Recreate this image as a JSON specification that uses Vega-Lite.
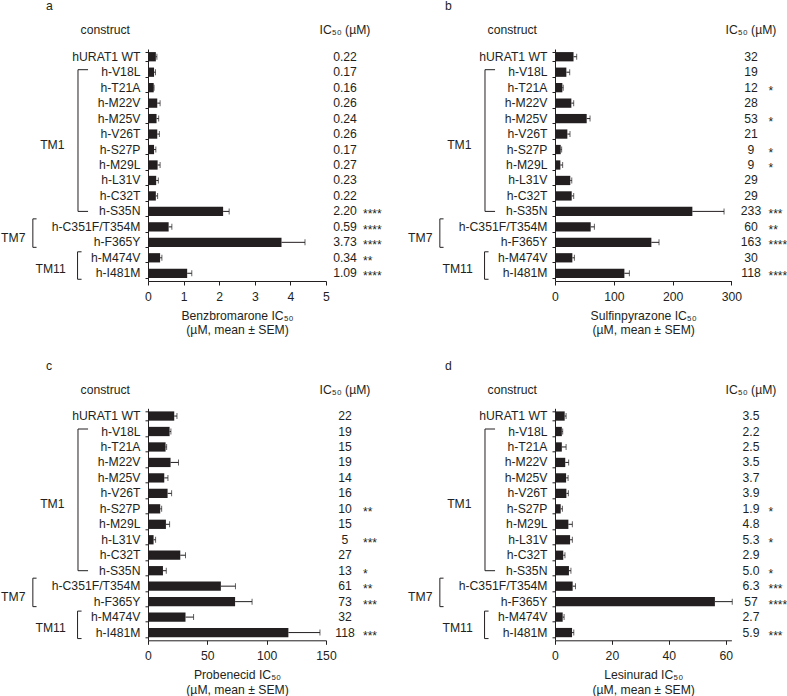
{
"$schema": "https://vega.github.io/schema/vega-lite/v6.json",
"padding": 0,
"autosize": {"type": "pad"},
"config": {
 "font": "Liberation Sans",
 "view": {"stroke": null},
 "text": {"color": "#231f20", "fontSize": 12.2, "font": "Liberation Sans"},
 "title": {"color": "#231f20", "fontSize": 12.2, "fontWeight": "normal", "frame": "group", "baseline": "middle", "font": "Liberation Sans"},
 "axis": {"domainColor": "#231f20", "tickColor": "#231f20", "labelColor": "#231f20", "titleColor": "#231f20", "labelFontSize": 12.2, "titleFontSize": 12.2, "titleFontWeight": "normal", "grid": false, "domainWidth": 1, "tickWidth": 1, "labelFont": "Liberation Sans", "titleFont": "Liberation Sans", "labelFlush": false}
},
"datasets": {
 "groups": [
  {"group": "TM1", "start": "h-V18L", "end": "h-S35N", "mid": "h-S27P"},
  {"group": "TM7", "start": "h-C351F/T354M", "end": "h-F365Y", "mid": "h-F365Y"},
  {"group": "TM11", "start": "h-M474V", "end": "h-I481M", "mid": "h-I481M"}
 ],
 "a": [
  {"construct": "hURAT1 WT", "mean": 0.22, "upper": 0.25, "label": "0.22", "sig": ""},
  {"construct": "h-V18L", "mean": 0.17, "upper": 0.21, "label": "0.17", "sig": ""},
  {"construct": "h-T21A", "mean": 0.16, "upper": 0.17, "label": "0.16", "sig": ""},
  {"construct": "h-M22V", "mean": 0.26, "upper": 0.34, "label": "0.26", "sig": ""},
  {"construct": "h-M25V", "mean": 0.24, "upper": 0.30, "label": "0.24", "sig": ""},
  {"construct": "h-V26T", "mean": 0.26, "upper": 0.32, "label": "0.26", "sig": ""},
  {"construct": "h-S27P", "mean": 0.17, "upper": 0.22, "label": "0.17", "sig": ""},
  {"construct": "h-M29L", "mean": 0.27, "upper": 0.34, "label": "0.27", "sig": ""},
  {"construct": "h-L31V", "mean": 0.23, "upper": 0.29, "label": "0.23", "sig": ""},
  {"construct": "h-C32T", "mean": 0.22, "upper": 0.27, "label": "0.22", "sig": ""},
  {"construct": "h-S35N", "mean": 2.11, "upper": 2.28, "label": "2.20", "sig": "****"},
  {"construct": "h-C351F/T354M", "mean": 0.58, "upper": 0.67, "label": "0.59", "sig": "****"},
  {"construct": "h-F365Y", "mean": 3.75, "upper": 4.41, "label": "3.73", "sig": "****"},
  {"construct": "h-M474V", "mean": 0.34, "upper": 0.39, "label": "0.34", "sig": "**"},
  {"construct": "h-I481M", "mean": 1.10, "upper": 1.23, "label": "1.09", "sig": "****"}
 ],
 "b": [
  {"construct": "hURAT1 WT", "mean": 31.5, "upper": 36.9, "label": "32", "sig": ""},
  {"construct": "h-V18L", "mean": 19.3, "upper": 25, "label": "19", "sig": ""},
  {"construct": "h-T21A", "mean": 12.5, "upper": 14, "label": "12", "sig": "*"},
  {"construct": "h-M22V", "mean": 27.8, "upper": 31.8, "label": "28", "sig": ""},
  {"construct": "h-M25V", "mean": 53.9, "upper": 59.6, "label": "53", "sig": "*"},
  {"construct": "h-V26T", "mean": 21, "upper": 25.5, "label": "21", "sig": ""},
  {"construct": "h-S27P", "mean": 9.7, "upper": 11.3, "label": "9", "sig": "*"},
  {"construct": "h-M29L", "mean": 9.1, "upper": 13, "label": "9", "sig": "*"},
  {"construct": "h-L31V", "mean": 26, "upper": 28.5, "label": "29", "sig": ""},
  {"construct": "h-C32T", "mean": 28.4, "upper": 31.8, "label": "29", "sig": ""},
  {"construct": "h-S35N", "mean": 233.6, "upper": 287.5, "label": "233", "sig": "***"},
  {"construct": "h-C351F/T354M", "mean": 60.7, "upper": 67, "label": "60", "sig": "**"},
  {"construct": "h-F365Y", "mean": 163.9, "upper": 176.9, "label": "163", "sig": "****"},
  {"construct": "h-M474V", "mean": 29.5, "upper": 33, "label": "30", "sig": ""},
  {"construct": "h-I481M", "mean": 118, "upper": 126.5, "label": "118", "sig": "****"}
 ],
 "c": [
  {"construct": "hURAT1 WT", "mean": 22.1, "upper": 24.4, "label": "22", "sig": ""},
  {"construct": "h-V18L", "mean": 18.2, "upper": 19.3, "label": "19", "sig": ""},
  {"construct": "h-T21A", "mean": 14.8, "upper": 15.7, "label": "15", "sig": ""},
  {"construct": "h-M22V", "mean": 19, "upper": 25.7, "label": "19", "sig": ""},
  {"construct": "h-M25V", "mean": 13.7, "upper": 16.8, "label": "14", "sig": ""},
  {"construct": "h-V26T", "mean": 16.5, "upper": 19.9, "label": "16", "sig": ""},
  {"construct": "h-S27P", "mean": 10.3, "upper": 11.5, "label": "10", "sig": "**"},
  {"construct": "h-M29L", "mean": 15.1, "upper": 18.2, "label": "15", "sig": ""},
  {"construct": "h-L31V", "mean": 4.7, "upper": 6.4, "label": "5", "sig": "***"},
  {"construct": "h-C32T", "mean": 27.2, "upper": 31.6, "label": "27", "sig": ""},
  {"construct": "h-S35N", "mean": 12.6, "upper": 15.4, "label": "13", "sig": "*"},
  {"construct": "h-C351F/T354M", "mean": 61.4, "upper": 73.7, "label": "61", "sig": "**"},
  {"construct": "h-F365Y", "mean": 73.4, "upper": 87.7, "label": "73", "sig": "***"},
  {"construct": "h-M474V", "mean": 31.6, "upper": 38.4, "label": "32", "sig": ""},
  {"construct": "h-I481M", "mean": 118.3, "upper": 144.9, "label": "118", "sig": "***"}
 ],
 "d": [
  {"construct": "hURAT1 WT", "mean": 3.4, "upper": 3.9, "label": "3.5", "sig": ""},
  {"construct": "h-V18L", "mean": 2.4, "upper": 2.7, "label": "2.2", "sig": ""},
  {"construct": "h-T21A", "mean": 2.4, "upper": 3.9, "label": "2.5", "sig": ""},
  {"construct": "h-M22V", "mean": 3.6, "upper": 4.8, "label": "3.5", "sig": ""},
  {"construct": "h-M25V", "mean": 3.9, "upper": 4.6, "label": "3.7", "sig": ""},
  {"construct": "h-V26T", "mean": 4.0, "upper": 4.7, "label": "3.9", "sig": ""},
  {"construct": "h-S27P", "mean": 2.0, "upper": 2.6, "label": "1.9", "sig": "*"},
  {"construct": "h-M29L", "mean": 4.7, "upper": 6.1, "label": "4.8", "sig": ""},
  {"construct": "h-L31V", "mean": 5.3, "upper": 6.1, "label": "5.3", "sig": "*"},
  {"construct": "h-C32T", "mean": 2.9, "upper": 3.5, "label": "2.9", "sig": ""},
  {"construct": "h-S35N", "mean": 4.9, "upper": 5.6, "label": "5.0", "sig": "*"},
  {"construct": "h-C351F/T354M", "mean": 6.2, "upper": 7.2, "label": "6.3", "sig": "***"},
  {"construct": "h-F365Y", "mean": 56.2, "upper": 62.3, "label": "57", "sig": "****"},
  {"construct": "h-M474V", "mean": 2.7, "upper": 3.2, "label": "2.7", "sig": ""},
  {"construct": "h-I481M", "mean": 6.0, "upper": 6.6, "label": "5.9", "sig": "***"}
 ]
},
"columns": 6,
"bounds": "flush",
"align": "each",
"spacing": {"row": 127.3, "column": 0},
"concat": [
 {"width": 148, "height": 232,
  "title": {"text": "construct", "anchor": "end", "dx": -18, "offset": 12.5},
  "layer": [
   {"data": {"name": "a"}, "mark": {"type": "text", "align": "right", "baseline": "middle", "fontSize": 12.2},
    "encoding": {"y": {"field": "construct", "type": "nominal", "axis": null, "scale": {"type": "band", "domain": ["hURAT1 WT","h-V18L","h-T21A","h-M22V","h-M25V","h-V26T","h-S27P","h-M29L","h-L31V","h-C32T","h-S35N","h-C351F/T354M","h-F365Y","h-M474V","h-I481M"], "paddingInner": 0.4, "paddingOuter": 0.2}},
     "x": {"datum": 0.949, "type": "quantitative", "scale": {"domain": [0, 1]}, "axis": null}, "text": {"field": "construct"}}},
   {"data": {"name": "groups"}, "transform": [{"filter": "datum.group === 'TM1'"}], "layer": [
     {"mark": {"type": "rule", "color": "#231f20", "yOffset": -2.5, "y2Offset": 0}, "encoding": {"x": {"datum": 0.527, "type": "quantitative"}, "y": {"field": "start", "type": "nominal"}, "y2": {"field": "end"}}},
     {"mark": {"type": "rule", "color": "#231f20", "yOffset": -2.5}, "encoding": {"x": {"datum": 0.527, "type": "quantitative"}, "x2": {"datum": 0.595}, "y": {"field": "start", "type": "nominal"}}},
     {"mark": {"type": "rule", "color": "#231f20"}, "encoding": {"x": {"datum": 0.527, "type": "quantitative"}, "x2": {"datum": 0.595}, "y": {"field": "end", "type": "nominal"}}},
     {"mark": {"type": "text", "align": "right", "baseline": "middle", "fontSize": 12.2}, "encoding": {"x": {"datum": 0.436, "type": "quantitative"}, "y": {"field": "mid", "type": "nominal", "bandPosition": 0}, "text": {"field": "group"}}}
   ]},
   {"data": {"name": "groups"}, "transform": [{"filter": "datum.group === 'TM7'"}], "layer": [
     {"mark": {"type": "rule", "color": "#231f20", "yOffset": -8, "y2Offset": 5}, "encoding": {"x": {"datum": 0.222, "type": "quantitative"}, "y": {"field": "start", "type": "nominal"}, "y2": {"field": "end"}}},
     {"mark": {"type": "rule", "color": "#231f20", "yOffset": -8}, "encoding": {"x": {"datum": 0.222, "type": "quantitative"}, "x2": {"datum": 0.247}, "y": {"field": "start", "type": "nominal"}}},
     {"mark": {"type": "rule", "color": "#231f20", "yOffset": 5}, "encoding": {"x": {"datum": 0.222, "type": "quantitative"}, "x2": {"datum": 0.247}, "y": {"field": "end", "type": "nominal"}}},
     {"mark": {"type": "text", "align": "right", "baseline": "middle", "fontSize": 12.2}, "encoding": {"x": {"datum": 0.172, "type": "quantitative"}, "y": {"field": "mid", "type": "nominal", "bandPosition": 0}, "text": {"field": "group"}}}
   ]},
   {"data": {"name": "groups"}, "transform": [{"filter": "datum.group === 'TM11'"}], "layer": [
     {"mark": {"type": "rule", "color": "#231f20", "yOffset": -6, "y2Offset": 6}, "encoding": {"x": {"datum": 0.524, "type": "quantitative"}, "y": {"field": "start", "type": "nominal"}, "y2": {"field": "end"}}},
     {"mark": {"type": "rule", "color": "#231f20", "yOffset": -6}, "encoding": {"x": {"datum": 0.524, "type": "quantitative"}, "x2": {"datum": 0.551}, "y": {"field": "start", "type": "nominal"}}},
     {"mark": {"type": "rule", "color": "#231f20", "yOffset": 6}, "encoding": {"x": {"datum": 0.524, "type": "quantitative"}, "x2": {"datum": 0.551}, "y": {"field": "end", "type": "nominal"}}},
     {"mark": {"type": "text", "align": "right", "baseline": "middle", "fontSize": 12.2}, "encoding": {"x": {"datum": 0.444, "type": "quantitative"}, "y": {"field": "mid", "type": "nominal", "bandPosition": 0}, "text": {"field": "group"}}}
   ]}
  ]},
 {"width": 178, "height": 232,
  "title": {"text": "a", "anchor": "start", "dx": -102, "offset": 36.5},
  "data": {"name": "a"},
  "encoding": {"y": {"field": "construct", "type": "nominal", "scale": {"type": "band", "domain": ["hURAT1 WT","h-V18L","h-T21A","h-M22V","h-M25V","h-V26T","h-S27P","h-M29L","h-L31V","h-C32T","h-S35N","h-C351F/T354M","h-F365Y","h-M474V","h-I481M"], "paddingInner": 0.4, "paddingOuter": 0.2},
   "axis": {"labels": false, "title": null, "tickSize": 3, "tickBand": "extent"}}},
  "layer": [
   {"mark": {"type": "bar", "color": "#231f20"}, "encoding": {"x": {"field": "mean", "type": "quantitative", "scale": {"domain": [0, 5], "nice": false}, "axis": {"values": [0, 1, 2, 3, 4, 5], "labelOverlap": false, "labelBound": false, "labelFlush": false, "tickSize": 4, "labelPadding": 5, "title": ["Benzbromarone IC₅₀", "(µM, mean ± SEM)"], "titlePadding": 7, "titleLineHeight": 14.5}}}},
   {"mark": {"type": "rule", "color": "#231f20"}, "encoding": {"x": {"field": "mean", "type": "quantitative", "scale": {"domain": [0, 5], "nice": false}, "axis": {"values": [0, 1, 2, 3, 4, 5], "labelOverlap": false, "labelBound": false, "labelFlush": false, "tickSize": 4, "labelPadding": 5, "title": ["Benzbromarone IC₅₀", "(µM, mean ± SEM)"], "titlePadding": 7, "titleLineHeight": 14.5}}, "x2": {"field": "upper"}}},
   {"mark": {"type": "tick", "color": "#231f20", "size": 6, "thickness": 1}, "encoding": {"x": {"field": "upper", "type": "quantitative", "scale": {"domain": [0, 5], "nice": false}, "axis": {"values": [0, 1, 2, 3, 4, 5], "labelOverlap": false, "labelBound": false, "labelFlush": false, "tickSize": 4, "labelPadding": 5, "title": ["Benzbromarone IC₅₀", "(µM, mean ± SEM)"], "titlePadding": 7, "titleLineHeight": 14.5}}}}
  ]},
 {"width": 80.3, "height": 232,
  "title": {"text": "IC₅₀ (µM)", "anchor": "start", "align": "center", "dx": 19, "offset": 12.5},
  "data": {"name": "a"},
  "encoding": {"y": {"field": "construct", "type": "nominal", "axis": null, "scale": {"type": "band", "domain": ["hURAT1 WT","h-V18L","h-T21A","h-M22V","h-M25V","h-V26T","h-S27P","h-M29L","h-L31V","h-C32T","h-S35N","h-C351F/T354M","h-F365Y","h-M474V","h-I481M"], "paddingInner": 0.4, "paddingOuter": 0.2}}},
  "layer": [
   {"mark": {"type": "text", "align": "center", "baseline": "middle", "fontSize": 12.2}, "encoding": {"x": {"datum": 0.2366, "type": "quantitative", "scale": {"domain": [0, 1]}, "axis": null}, "text": {"field": "label"}}},
   {"mark": {"type": "text", "align": "left", "baseline": "middle", "fontSize": 12, "dy": 3}, "encoding": {"x": {"datum": 0.4608, "type": "quantitative", "scale": {"domain": [0, 1]}, "axis": null}, "text": {"field": "sig"}}}
  ]},

 {"width": 148, "height": 232,
  "title": {"text": "construct", "anchor": "end", "dx": -18, "offset": 12.5},
  "layer": [
   {"data": {"name": "b"}, "mark": {"type": "text", "align": "right", "baseline": "middle", "fontSize": 12.2},
    "encoding": {"y": {"field": "construct", "type": "nominal", "axis": null, "scale": {"type": "band", "domain": ["hURAT1 WT","h-V18L","h-T21A","h-M22V","h-M25V","h-V26T","h-S27P","h-M29L","h-L31V","h-C32T","h-S35N","h-C351F/T354M","h-F365Y","h-M474V","h-I481M"], "paddingInner": 0.4, "paddingOuter": 0.2}},
     "x": {"datum": 0.949, "type": "quantitative", "scale": {"domain": [0, 1]}, "axis": null}, "text": {"field": "construct"}}},
   {"data": {"name": "groups"}, "transform": [{"filter": "datum.group === 'TM1'"}], "layer": [
     {"mark": {"type": "rule", "color": "#231f20", "yOffset": -2.5, "y2Offset": 0}, "encoding": {"x": {"datum": 0.527, "type": "quantitative"}, "y": {"field": "start", "type": "nominal"}, "y2": {"field": "end"}}},
     {"mark": {"type": "rule", "color": "#231f20", "yOffset": -2.5}, "encoding": {"x": {"datum": 0.527, "type": "quantitative"}, "x2": {"datum": 0.595}, "y": {"field": "start", "type": "nominal"}}},
     {"mark": {"type": "rule", "color": "#231f20"}, "encoding": {"x": {"datum": 0.527, "type": "quantitative"}, "x2": {"datum": 0.595}, "y": {"field": "end", "type": "nominal"}}},
     {"mark": {"type": "text", "align": "right", "baseline": "middle", "fontSize": 12.2}, "encoding": {"x": {"datum": 0.436, "type": "quantitative"}, "y": {"field": "mid", "type": "nominal", "bandPosition": 0}, "text": {"field": "group"}}}
   ]},
   {"data": {"name": "groups"}, "transform": [{"filter": "datum.group === 'TM7'"}], "layer": [
     {"mark": {"type": "rule", "color": "#231f20", "yOffset": -8, "y2Offset": 5}, "encoding": {"x": {"datum": 0.222, "type": "quantitative"}, "y": {"field": "start", "type": "nominal"}, "y2": {"field": "end"}}},
     {"mark": {"type": "rule", "color": "#231f20", "yOffset": -8}, "encoding": {"x": {"datum": 0.222, "type": "quantitative"}, "x2": {"datum": 0.247}, "y": {"field": "start", "type": "nominal"}}},
     {"mark": {"type": "rule", "color": "#231f20", "yOffset": 5}, "encoding": {"x": {"datum": 0.222, "type": "quantitative"}, "x2": {"datum": 0.247}, "y": {"field": "end", "type": "nominal"}}},
     {"mark": {"type": "text", "align": "right", "baseline": "middle", "fontSize": 12.2}, "encoding": {"x": {"datum": 0.172, "type": "quantitative"}, "y": {"field": "mid", "type": "nominal", "bandPosition": 0}, "text": {"field": "group"}}}
   ]},
   {"data": {"name": "groups"}, "transform": [{"filter": "datum.group === 'TM11'"}], "layer": [
     {"mark": {"type": "rule", "color": "#231f20", "yOffset": -6, "y2Offset": 6}, "encoding": {"x": {"datum": 0.524, "type": "quantitative"}, "y": {"field": "start", "type": "nominal"}, "y2": {"field": "end"}}},
     {"mark": {"type": "rule", "color": "#231f20", "yOffset": -6}, "encoding": {"x": {"datum": 0.524, "type": "quantitative"}, "x2": {"datum": 0.551}, "y": {"field": "start", "type": "nominal"}}},
     {"mark": {"type": "rule", "color": "#231f20", "yOffset": 6}, "encoding": {"x": {"datum": 0.524, "type": "quantitative"}, "x2": {"datum": 0.551}, "y": {"field": "end", "type": "nominal"}}},
     {"mark": {"type": "text", "align": "right", "baseline": "middle", "fontSize": 12.2}, "encoding": {"x": {"datum": 0.444, "type": "quantitative"}, "y": {"field": "mid", "type": "nominal", "bandPosition": 0}, "text": {"field": "group"}}}
   ]}
  ]},
 {"width": 176.4, "height": 232,
  "title": {"text": "b", "anchor": "start", "dx": -110, "offset": 36.5},
  "data": {"name": "b"},
  "encoding": {"y": {"field": "construct", "type": "nominal", "scale": {"type": "band", "domain": ["hURAT1 WT","h-V18L","h-T21A","h-M22V","h-M25V","h-V26T","h-S27P","h-M29L","h-L31V","h-C32T","h-S35N","h-C351F/T354M","h-F365Y","h-M474V","h-I481M"], "paddingInner": 0.4, "paddingOuter": 0.2},
   "axis": {"labels": false, "title": null, "tickSize": 3, "tickBand": "extent"}}},
  "layer": [
   {"mark": {"type": "bar", "color": "#231f20"}, "encoding": {"x": {"field": "mean", "type": "quantitative", "scale": {"domain": [0, 300], "nice": false}, "axis": {"values": [0, 100, 200, 300], "labelOverlap": false, "labelBound": false, "labelFlush": false, "tickSize": 4, "labelPadding": 5, "title": ["Sulfinpyrazone IC₅₀", "(µM, mean ± SEM)"], "titlePadding": 7, "titleLineHeight": 14.5}}}},
   {"mark": {"type": "rule", "color": "#231f20"}, "encoding": {"x": {"field": "mean", "type": "quantitative", "scale": {"domain": [0, 300], "nice": false}, "axis": {"values": [0, 100, 200, 300], "labelOverlap": false, "labelBound": false, "labelFlush": false, "tickSize": 4, "labelPadding": 5, "title": ["Sulfinpyrazone IC₅₀", "(µM, mean ± SEM)"], "titlePadding": 7, "titleLineHeight": 14.5}}, "x2": {"field": "upper"}}},
   {"mark": {"type": "tick", "color": "#231f20", "size": 6, "thickness": 1}, "encoding": {"x": {"field": "upper", "type": "quantitative", "scale": {"domain": [0, 300], "nice": false}, "axis": {"values": [0, 100, 200, 300], "labelOverlap": false, "labelBound": false, "labelFlush": false, "tickSize": 4, "labelPadding": 5, "title": ["Sulfinpyrazone IC₅₀", "(µM, mean ± SEM)"], "titlePadding": 7, "titleLineHeight": 14.5}}}}
  ]},
 {"width": 56, "height": 232,
  "title": {"text": "IC₅₀ (µM)", "anchor": "start", "align": "center", "dx": 19, "offset": 12.5},
  "data": {"name": "b"},
  "encoding": {"y": {"field": "construct", "type": "nominal", "axis": null, "scale": {"type": "band", "domain": ["hURAT1 WT","h-V18L","h-T21A","h-M22V","h-M25V","h-V26T","h-S27P","h-M29L","h-L31V","h-C32T","h-S35N","h-C351F/T354M","h-F365Y","h-M474V","h-I481M"], "paddingInner": 0.4, "paddingOuter": 0.2}}},
  "layer": [
   {"mark": {"type": "text", "align": "center", "baseline": "middle", "fontSize": 12.2}, "encoding": {"x": {"datum": 0.3393, "type": "quantitative", "scale": {"domain": [0, 1]}, "axis": null}, "text": {"field": "label"}}},
   {"mark": {"type": "text", "align": "left", "baseline": "middle", "fontSize": 12, "dy": 3}, "encoding": {"x": {"datum": 0.652, "type": "quantitative", "scale": {"domain": [0, 1]}, "axis": null}, "text": {"field": "sig"}}}
  ]},

 {"width": 148, "height": 232,
  "title": {"text": "construct", "anchor": "end", "dx": -18, "offset": 12.5},
  "layer": [
   {"data": {"name": "c"}, "mark": {"type": "text", "align": "right", "baseline": "middle", "fontSize": 12.2},
    "encoding": {"y": {"field": "construct", "type": "nominal", "axis": null, "scale": {"type": "band", "domain": ["hURAT1 WT","h-V18L","h-T21A","h-M22V","h-M25V","h-V26T","h-S27P","h-M29L","h-L31V","h-C32T","h-S35N","h-C351F/T354M","h-F365Y","h-M474V","h-I481M"], "paddingInner": 0.4, "paddingOuter": 0.2}},
     "x": {"datum": 0.949, "type": "quantitative", "scale": {"domain": [0, 1]}, "axis": null}, "text": {"field": "construct"}}},
   {"data": {"name": "groups"}, "transform": [{"filter": "datum.group === 'TM1'"}], "layer": [
     {"mark": {"type": "rule", "color": "#231f20", "yOffset": -2.5, "y2Offset": 0}, "encoding": {"x": {"datum": 0.527, "type": "quantitative"}, "y": {"field": "start", "type": "nominal"}, "y2": {"field": "end"}}},
     {"mark": {"type": "rule", "color": "#231f20", "yOffset": -2.5}, "encoding": {"x": {"datum": 0.527, "type": "quantitative"}, "x2": {"datum": 0.595}, "y": {"field": "start", "type": "nominal"}}},
     {"mark": {"type": "rule", "color": "#231f20"}, "encoding": {"x": {"datum": 0.527, "type": "quantitative"}, "x2": {"datum": 0.595}, "y": {"field": "end", "type": "nominal"}}},
     {"mark": {"type": "text", "align": "right", "baseline": "middle", "fontSize": 12.2}, "encoding": {"x": {"datum": 0.436, "type": "quantitative"}, "y": {"field": "mid", "type": "nominal", "bandPosition": 0}, "text": {"field": "group"}}}
   ]},
   {"data": {"name": "groups"}, "transform": [{"filter": "datum.group === 'TM7'"}], "layer": [
     {"mark": {"type": "rule", "color": "#231f20", "yOffset": -8, "y2Offset": 5}, "encoding": {"x": {"datum": 0.222, "type": "quantitative"}, "y": {"field": "start", "type": "nominal"}, "y2": {"field": "end"}}},
     {"mark": {"type": "rule", "color": "#231f20", "yOffset": -8}, "encoding": {"x": {"datum": 0.222, "type": "quantitative"}, "x2": {"datum": 0.247}, "y": {"field": "start", "type": "nominal"}}},
     {"mark": {"type": "rule", "color": "#231f20", "yOffset": 5}, "encoding": {"x": {"datum": 0.222, "type": "quantitative"}, "x2": {"datum": 0.247}, "y": {"field": "end", "type": "nominal"}}},
     {"mark": {"type": "text", "align": "right", "baseline": "middle", "fontSize": 12.2}, "encoding": {"x": {"datum": 0.172, "type": "quantitative"}, "y": {"field": "mid", "type": "nominal", "bandPosition": 0}, "text": {"field": "group"}}}
   ]},
   {"data": {"name": "groups"}, "transform": [{"filter": "datum.group === 'TM11'"}], "layer": [
     {"mark": {"type": "rule", "color": "#231f20", "yOffset": -6, "y2Offset": 6}, "encoding": {"x": {"datum": 0.524, "type": "quantitative"}, "y": {"field": "start", "type": "nominal"}, "y2": {"field": "end"}}},
     {"mark": {"type": "rule", "color": "#231f20", "yOffset": -6}, "encoding": {"x": {"datum": 0.524, "type": "quantitative"}, "x2": {"datum": 0.551}, "y": {"field": "start", "type": "nominal"}}},
     {"mark": {"type": "rule", "color": "#231f20", "yOffset": 6}, "encoding": {"x": {"datum": 0.524, "type": "quantitative"}, "x2": {"datum": 0.551}, "y": {"field": "end", "type": "nominal"}}},
     {"mark": {"type": "text", "align": "right", "baseline": "middle", "fontSize": 12.2}, "encoding": {"x": {"datum": 0.444, "type": "quantitative"}, "y": {"field": "mid", "type": "nominal", "bandPosition": 0}, "text": {"field": "group"}}}
   ]}
  ]},
 {"width": 178, "height": 232,
  "title": {"text": "c", "anchor": "start", "dx": -102, "offset": 36.5},
  "data": {"name": "c"},
  "encoding": {"y": {"field": "construct", "type": "nominal", "scale": {"type": "band", "domain": ["hURAT1 WT","h-V18L","h-T21A","h-M22V","h-M25V","h-V26T","h-S27P","h-M29L","h-L31V","h-C32T","h-S35N","h-C351F/T354M","h-F365Y","h-M474V","h-I481M"], "paddingInner": 0.4, "paddingOuter": 0.2},
   "axis": {"labels": false, "title": null, "tickSize": 3, "tickBand": "extent"}}},
  "layer": [
   {"mark": {"type": "bar", "color": "#231f20"}, "encoding": {"x": {"field": "mean", "type": "quantitative", "scale": {"domain": [0, 150], "nice": false}, "axis": {"values": [0, 50, 100, 150], "labelOverlap": false, "labelBound": false, "labelFlush": false, "tickSize": 4, "labelPadding": 5, "title": ["Probenecid IC₅₀", "(µM, mean ± SEM)"], "titlePadding": 7, "titleLineHeight": 14.5}}}},
   {"mark": {"type": "rule", "color": "#231f20"}, "encoding": {"x": {"field": "mean", "type": "quantitative", "scale": {"domain": [0, 150], "nice": false}, "axis": {"values": [0, 50, 100, 150], "labelOverlap": false, "labelBound": false, "labelFlush": false, "tickSize": 4, "labelPadding": 5, "title": ["Probenecid IC₅₀", "(µM, mean ± SEM)"], "titlePadding": 7, "titleLineHeight": 14.5}}, "x2": {"field": "upper"}}},
   {"mark": {"type": "tick", "color": "#231f20", "size": 6, "thickness": 1}, "encoding": {"x": {"field": "upper", "type": "quantitative", "scale": {"domain": [0, 150], "nice": false}, "axis": {"values": [0, 50, 100, 150], "labelOverlap": false, "labelBound": false, "labelFlush": false, "tickSize": 4, "labelPadding": 5, "title": ["Probenecid IC₅₀", "(µM, mean ± SEM)"], "titlePadding": 7, "titleLineHeight": 14.5}}}}
  ]},
 {"width": 80.3, "height": 232,
  "title": {"text": "IC₅₀ (µM)", "anchor": "start", "align": "center", "dx": 19, "offset": 12.5},
  "data": {"name": "c"},
  "encoding": {"y": {"field": "construct", "type": "nominal", "axis": null, "scale": {"type": "band", "domain": ["hURAT1 WT","h-V18L","h-T21A","h-M22V","h-M25V","h-V26T","h-S27P","h-M29L","h-L31V","h-C32T","h-S35N","h-C351F/T354M","h-F365Y","h-M474V","h-I481M"], "paddingInner": 0.4, "paddingOuter": 0.2}}},
  "layer": [
   {"mark": {"type": "text", "align": "center", "baseline": "middle", "fontSize": 12.2}, "encoding": {"x": {"datum": 0.2366, "type": "quantitative", "scale": {"domain": [0, 1]}, "axis": null}, "text": {"field": "label"}}},
   {"mark": {"type": "text", "align": "left", "baseline": "middle", "fontSize": 12, "dy": 3}, "encoding": {"x": {"datum": 0.4608, "type": "quantitative", "scale": {"domain": [0, 1]}, "axis": null}, "text": {"field": "sig"}}}
  ]},

 {"width": 148, "height": 232,
  "title": {"text": "construct", "anchor": "end", "dx": -18, "offset": 12.5},
  "layer": [
   {"data": {"name": "d"}, "mark": {"type": "text", "align": "right", "baseline": "middle", "fontSize": 12.2},
    "encoding": {"y": {"field": "construct", "type": "nominal", "axis": null, "scale": {"type": "band", "domain": ["hURAT1 WT","h-V18L","h-T21A","h-M22V","h-M25V","h-V26T","h-S27P","h-M29L","h-L31V","h-C32T","h-S35N","h-C351F/T354M","h-F365Y","h-M474V","h-I481M"], "paddingInner": 0.4, "paddingOuter": 0.2}},
     "x": {"datum": 0.949, "type": "quantitative", "scale": {"domain": [0, 1]}, "axis": null}, "text": {"field": "construct"}}},
   {"data": {"name": "groups"}, "transform": [{"filter": "datum.group === 'TM1'"}], "layer": [
     {"mark": {"type": "rule", "color": "#231f20", "yOffset": -2.5, "y2Offset": 0}, "encoding": {"x": {"datum": 0.527, "type": "quantitative"}, "y": {"field": "start", "type": "nominal"}, "y2": {"field": "end"}}},
     {"mark": {"type": "rule", "color": "#231f20", "yOffset": -2.5}, "encoding": {"x": {"datum": 0.527, "type": "quantitative"}, "x2": {"datum": 0.595}, "y": {"field": "start", "type": "nominal"}}},
     {"mark": {"type": "rule", "color": "#231f20"}, "encoding": {"x": {"datum": 0.527, "type": "quantitative"}, "x2": {"datum": 0.595}, "y": {"field": "end", "type": "nominal"}}},
     {"mark": {"type": "text", "align": "right", "baseline": "middle", "fontSize": 12.2}, "encoding": {"x": {"datum": 0.436, "type": "quantitative"}, "y": {"field": "mid", "type": "nominal", "bandPosition": 0}, "text": {"field": "group"}}}
   ]},
   {"data": {"name": "groups"}, "transform": [{"filter": "datum.group === 'TM7'"}], "layer": [
     {"mark": {"type": "rule", "color": "#231f20", "yOffset": -8, "y2Offset": 5}, "encoding": {"x": {"datum": 0.222, "type": "quantitative"}, "y": {"field": "start", "type": "nominal"}, "y2": {"field": "end"}}},
     {"mark": {"type": "rule", "color": "#231f20", "yOffset": -8}, "encoding": {"x": {"datum": 0.222, "type": "quantitative"}, "x2": {"datum": 0.247}, "y": {"field": "start", "type": "nominal"}}},
     {"mark": {"type": "rule", "color": "#231f20", "yOffset": 5}, "encoding": {"x": {"datum": 0.222, "type": "quantitative"}, "x2": {"datum": 0.247}, "y": {"field": "end", "type": "nominal"}}},
     {"mark": {"type": "text", "align": "right", "baseline": "middle", "fontSize": 12.2}, "encoding": {"x": {"datum": 0.172, "type": "quantitative"}, "y": {"field": "mid", "type": "nominal", "bandPosition": 0}, "text": {"field": "group"}}}
   ]},
   {"data": {"name": "groups"}, "transform": [{"filter": "datum.group === 'TM11'"}], "layer": [
     {"mark": {"type": "rule", "color": "#231f20", "yOffset": -6, "y2Offset": 6}, "encoding": {"x": {"datum": 0.524, "type": "quantitative"}, "y": {"field": "start", "type": "nominal"}, "y2": {"field": "end"}}},
     {"mark": {"type": "rule", "color": "#231f20", "yOffset": -6}, "encoding": {"x": {"datum": 0.524, "type": "quantitative"}, "x2": {"datum": 0.551}, "y": {"field": "start", "type": "nominal"}}},
     {"mark": {"type": "rule", "color": "#231f20", "yOffset": 6}, "encoding": {"x": {"datum": 0.524, "type": "quantitative"}, "x2": {"datum": 0.551}, "y": {"field": "end", "type": "nominal"}}},
     {"mark": {"type": "text", "align": "right", "baseline": "middle", "fontSize": 12.2}, "encoding": {"x": {"datum": 0.444, "type": "quantitative"}, "y": {"field": "mid", "type": "nominal", "bandPosition": 0}, "text": {"field": "group"}}}
   ]}
  ]},
 {"width": 176.4, "height": 232,
  "title": {"text": "d", "anchor": "start", "dx": -110, "offset": 36.5},
  "data": {"name": "d"},
  "encoding": {"y": {"field": "construct", "type": "nominal", "scale": {"type": "band", "domain": ["hURAT1 WT","h-V18L","h-T21A","h-M22V","h-M25V","h-V26T","h-S27P","h-M29L","h-L31V","h-C32T","h-S35N","h-C351F/T354M","h-F365Y","h-M474V","h-I481M"], "paddingInner": 0.4, "paddingOuter": 0.2},
   "axis": {"labels": false, "title": null, "tickSize": 3, "tickBand": "extent"}}},
  "layer": [
   {"mark": {"type": "bar", "color": "#231f20"}, "encoding": {"x": {"field": "mean", "type": "quantitative", "scale": {"domain": [0, 62], "nice": false}, "axis": {"values": [0, 20, 40, 60], "labelOverlap": false, "labelBound": false, "labelFlush": false, "tickSize": 4, "labelPadding": 5, "title": ["Lesinurad IC₅₀", "(µM, mean ± SEM)"], "titlePadding": 7, "titleLineHeight": 14.5}}}},
   {"mark": {"type": "rule", "color": "#231f20"}, "encoding": {"x": {"field": "mean", "type": "quantitative", "scale": {"domain": [0, 62], "nice": false}, "axis": {"values": [0, 20, 40, 60], "labelOverlap": false, "labelBound": false, "labelFlush": false, "tickSize": 4, "labelPadding": 5, "title": ["Lesinurad IC₅₀", "(µM, mean ± SEM)"], "titlePadding": 7, "titleLineHeight": 14.5}}, "x2": {"field": "upper"}}},
   {"mark": {"type": "tick", "color": "#231f20", "size": 6, "thickness": 1}, "encoding": {"x": {"field": "upper", "type": "quantitative", "scale": {"domain": [0, 62], "nice": false}, "axis": {"values": [0, 20, 40, 60], "labelOverlap": false, "labelBound": false, "labelFlush": false, "tickSize": 4, "labelPadding": 5, "title": ["Lesinurad IC₅₀", "(µM, mean ± SEM)"], "titlePadding": 7, "titleLineHeight": 14.5}}}}
  ]},
 {"width": 56, "height": 232,
  "title": {"text": "IC₅₀ (µM)", "anchor": "start", "align": "center", "dx": 19, "offset": 12.5},
  "data": {"name": "d"},
  "encoding": {"y": {"field": "construct", "type": "nominal", "axis": null, "scale": {"type": "band", "domain": ["hURAT1 WT","h-V18L","h-T21A","h-M22V","h-M25V","h-V26T","h-S27P","h-M29L","h-L31V","h-C32T","h-S35N","h-C351F/T354M","h-F365Y","h-M474V","h-I481M"], "paddingInner": 0.4, "paddingOuter": 0.2}}},
  "layer": [
   {"mark": {"type": "text", "align": "center", "baseline": "middle", "fontSize": 12.2}, "encoding": {"x": {"datum": 0.3393, "type": "quantitative", "scale": {"domain": [0, 1]}, "axis": null}, "text": {"field": "label"}}},
   {"mark": {"type": "text", "align": "left", "baseline": "middle", "fontSize": 12, "dy": 3}, "encoding": {"x": {"datum": 0.652, "type": "quantitative", "scale": {"domain": [0, 1]}, "axis": null}, "text": {"field": "sig"}}}
  ]}
]
}
